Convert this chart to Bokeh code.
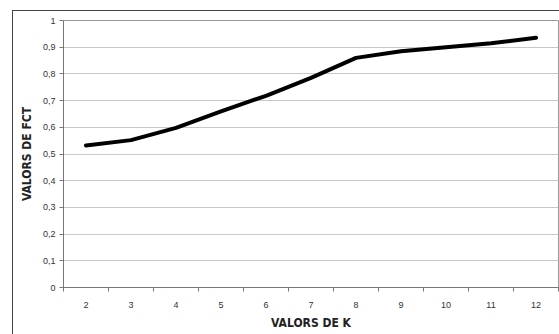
from bokeh.plotting import figure
from bokeh.models import FixedTicker, CustomJSTickFormatter, Range1d
from bokeh.embed import file_html
from bokeh.resources import INLINE

k_values = [2, 3, 4, 5, 6, 7, 8, 9, 10, 11, 12]
fct_values = [0.532, 0.552, 0.598, 0.660, 0.718, 0.785, 0.860, 0.885, 0.900, 0.915, 0.935]
y_ticks = [0, 0.1, 0.2, 0.3, 0.4, 0.5, 0.6, 0.7, 0.8, 0.9, 1.0]

p = figure(width=559, height=334, output_backend="svg", toolbar_location=None,
           x_range=Range1d(1.5, 12.5), y_range=Range1d(0, 1),
           min_border_left=63, min_border_right=1, min_border_top=20, min_border_bottom=47)

p.line(k_values, fct_values, line_width=4, line_color="black", line_join="round", line_cap="round")

p.outline_line_color = "#999999"
p.outline_line_width = 1
p.background_fill_color = "white"
p.border_fill_alpha = 0
p.styles = {
    "background": "linear-gradient(#444444,#444444) 12px 10px / 1px 100% no-repeat, "
                  "linear-gradient(#444444,#444444) 12px 10px / 100% 1px no-repeat, white",
}

FONT = "'DejaVu Sans Condensed', 'Liberation Sans', sans-serif"

# x axis
p.xaxis.ticker = FixedTicker(ticks=k_values, minor_ticks=[x + 0.5 for x in range(1, 13)])
p.xaxis.major_tick_line_color = None
p.xaxis.major_tick_out = 0
p.xaxis.minor_tick_line_color = "#777777"
p.xaxis.minor_tick_out = 4
p.xaxis.minor_tick_in = 0
p.xaxis.axis_line_color = "#777777"
p.xaxis.axis_label = "VALORS DE K"
p.xaxis.major_label_standoff = 10
p.xgrid.grid_line_color = None

# y axis
p.yaxis.ticker = FixedTicker(ticks=y_ticks)
p.yaxis.formatter = CustomJSTickFormatter(code="""
var s = (Math.round(tick*10)/10).toString();
return s.replace('.', ',');
""")
p.yaxis.major_tick_line_color = "#777777"
p.yaxis.major_tick_out = 4
p.yaxis.major_tick_in = 0
p.yaxis.minor_tick_line_color = None
p.yaxis.axis_line_color = "#777777"
p.yaxis.axis_label = "VALORS DE FCT"
p.yaxis.major_label_standoff = 4
p.ygrid.grid_line_color = "#c8c8c8"

for ax in (p.xaxis, p.yaxis):
    ax.major_label_text_font = "'Liberation Sans', sans-serif"
    ax.major_label_text_font_size = "9px"
    ax.major_label_text_color = "#333333"
    ax.axis_label_text_font = FONT
    ax.axis_label_text_font_style = "bold"
    ax.axis_label_text_font_size = "12px"
    ax.axis_label_text_color = "#222222"
p.xaxis.axis_label_standoff = 5
p.yaxis.axis_label_standoff = 6

open("out.html", "w").write(file_html(p, INLINE))
